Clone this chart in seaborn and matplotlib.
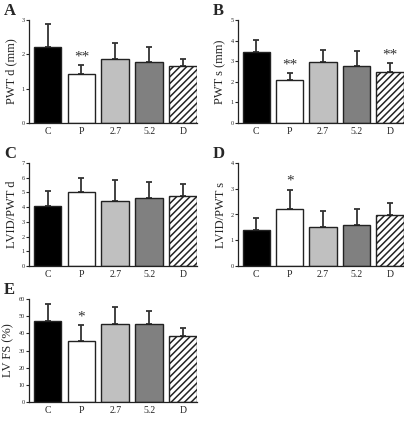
import numpy as np
import pandas as pd
import matplotlib
matplotlib.use('Agg')
import matplotlib.pyplot as plt
import seaborn as sns

groups = ['C', 'P', '2.7', '5.2', 'D']
colors = ['#000000', '#ffffff', '#c0c0c0', '#808080', '#ffffff']

# panel data: mean, upper error (sd), significance marks
pwt_d = [2.2, 1.43, 1.87, 1.78, 1.65]
pwt_d_err = [0.68, 0.25, 0.46, 0.44, 0.2]
pwt_d_sig = ['', '**', '', '', '']

pwt_s = [3.45, 2.1, 2.95, 2.78, 2.48]
pwt_s_err = [0.6, 0.32, 0.6, 0.72, 0.44]
pwt_s_sig = ['', '**', '', '', '**']

lvid_pwt_d = [4.05, 5.03, 4.45, 4.62, 4.75]
lvid_pwt_d_err = [1.05, 0.97, 1.4, 1.1, 0.82]
lvid_pwt_d_sig = ['', '', '', '', '']

lvid_pwt_s = [1.38, 2.22, 1.53, 1.6, 1.97]
lvid_pwt_s_err = [0.47, 0.75, 0.62, 0.6, 0.46]
lvid_pwt_s_sig = ['', '*', '', '', '']

lv_fs = [47.0, 35.5, 45.3, 45.7, 38.2]
lv_fs_err = [10.0, 9.5, 10.2, 7.6, 4.8]
lv_fs_sig = ['', '*', '', '', '']

W, H = 404, 423
sns.set_style('white')
plt.rcParams['font.family'] = ['Liberation Serif', 'DejaVu Serif']
plt.rcParams['hatch.linewidth'] = 1.1

fig = plt.figure(figsize=(W / 100, H / 100), dpi=100)

panels = [
    ('A', 'PWT d (mm)', pwt_d, pwt_d_err, pwt_d_sig, 3, 1, (29, 20, 168, 103)),
    ('B', 'PWT s (mm)', pwt_s, pwt_s_err, pwt_s_sig, 5, 1, (238, 20, 166, 103)),
    ('C', 'LVID/PWT d', lvid_pwt_d, lvid_pwt_d_err, lvid_pwt_d_sig, 7, 1, (29, 163, 168, 103)),
    ('D', 'LVID/PWT s', lvid_pwt_s, lvid_pwt_s_err, lvid_pwt_s_sig, 4, 1, (238, 163, 166, 103)),
    ('E', 'LV FS (%)', lv_fs, lv_fs_err, lv_fs_sig, 60, 10, (29, 299, 168, 103)),
]

for letter, ylabel, vals, errs, sigs, ymax, step, (px, py, pw, ph) in panels:
    ax = fig.add_axes([px / W, 1 - (py + ph) / H, pw / W, ph / H])
    df = pd.DataFrame({'group': groups, 'value': vals})
    sns.barplot(data=df, x='group', y='value', hue='group', palette=colors,
                legend=False, width=0.82, edgecolor='#222222', linewidth=1.0,
                ax=ax, zorder=2)
    ax.patches[4].set_hatch('/////')
    ax.errorbar(np.arange(len(groups)), vals,
                yerr=[np.zeros(len(errs)), errs], fmt='none',
                ecolor='#333333', elinewidth=1.3, capsize=2.2, capthick=1.3,
                zorder=1)
    for i, s in enumerate(sigs):
        if s:
            ax.text(i, vals[i] + errs[i] + ymax * 0.015, s, ha='center',
                    va='bottom', fontsize=11, color='#333333')
    ax.set_ylim(0, ymax)
    ax.set_xlim(-0.55, 4.42)
    ax.set_yticks(np.arange(0, ymax + step / 2, step))
    ax.tick_params(axis='y', direction='out', length=2, width=0.8,
                   labelsize=4.5, pad=1, left=True)
    ax.tick_params(axis='x', length=0, labelsize=7, pad=3)
    ax.set_xlabel('')
    ax.set_ylabel(ylabel, fontsize=9, labelpad=3)
    sns.despine(ax=ax)
    for sp in ('left', 'bottom'):
        ax.spines[sp].set_linewidth(0.9)
        ax.spines[sp].set_color('#222222')
    fig.text((px - 25) / W, 1 - (py - 9) / H, letter, fontsize=12,
             fontweight='bold', va='center', ha='left')

plt.savefig('out.png', dpi=100)
plt.close()
